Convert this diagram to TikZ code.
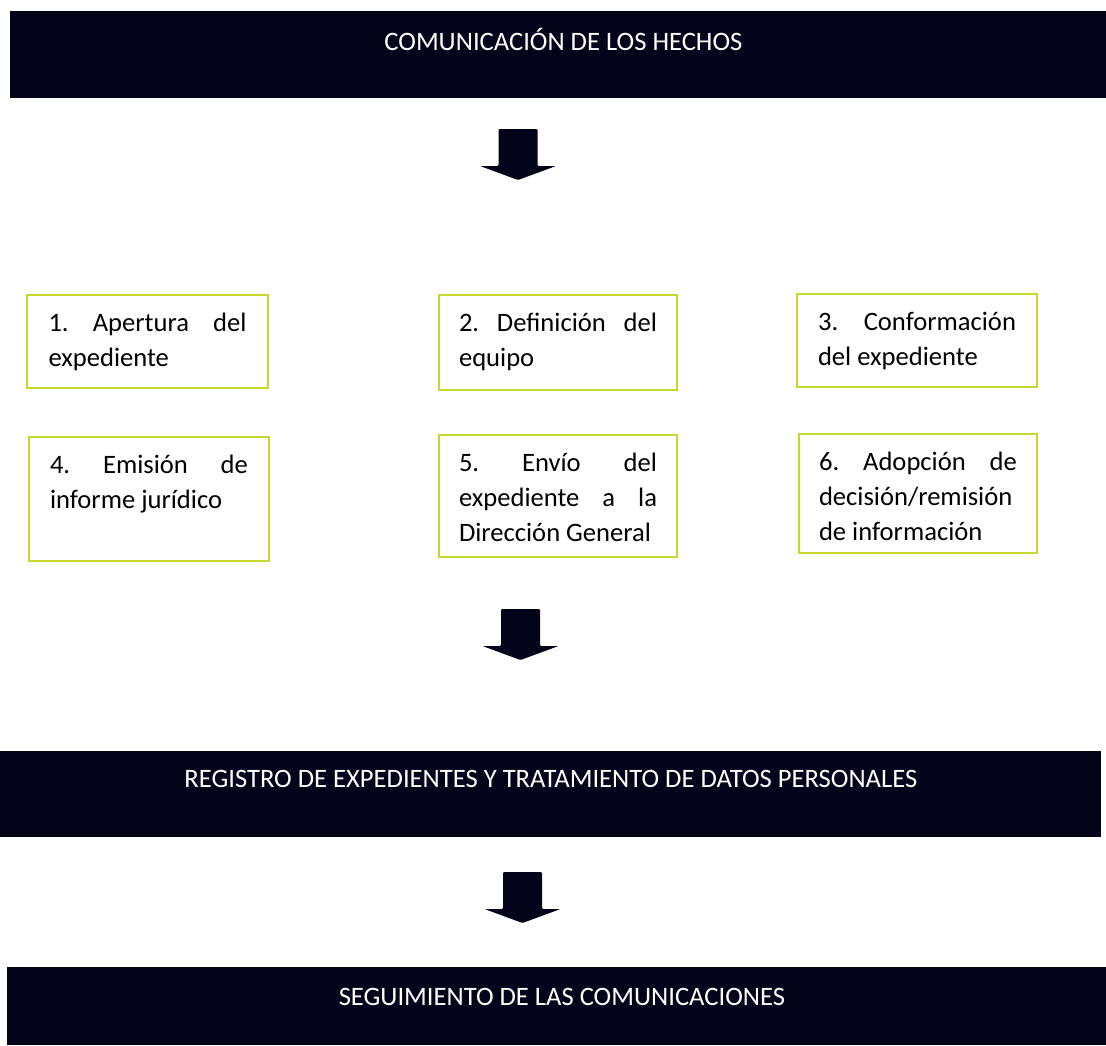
\documentclass[tikz,border=0pt]{standalone}
\usepackage{fontspec}
\setmainfont{Carlito}
\definecolor{navy}{RGB}{3,4,26}
\definecolor{lime}{RGB}{196,216,46}
\newcommand\bt[2]{\parbox[c][#1][t]{99pt}{\frenchspacing\hyphenpenalty=10000\exhyphenpenalty=10000\tolerance=10000\hbadness=10000\rule{0pt}{18pt}#2}}
\begin{document}
\begin{tikzpicture}[x=0.5pt,y=-0.5pt,
  bar/.style={fill=navy, draw=none, text=white, anchor=north west, inner xsep=0pt, inner ysep=0pt,
    font=\fontsize{13.3}{16}\selectfont},
  stepbox/.style={draw=lime, line width=1pt, anchor=north west, inner xsep=10pt, inner ysep=0pt,
    font=\fontsize{13.3}{17.5}\selectfont},
  pics/blockarrow/.style={code={
    \fill[navy, rounded corners=0.6pt] (-19.5,0) -- (19.5,0) -- (19.5,37) -- (38,37) -- (0,51)
      -- (-38,37) -- (-19.5,37) -- cycle;}}]
\useasboundingbox (0,0) rectangle (1106,1045);
\fill[white] (0,0) rectangle (1106,1045);

% bars
\node[bar, minimum width=548pt, text height=19.5pt, text depth=24pt] (top) at (10,11)
  {\hspace*{5pt}COMUNICACIÓN DE LOS HECHOS};
\node[bar, minimum width=550.5pt, text height=18pt, text depth=25pt] (reg) at (0,751)
  {REGISTRO DE EXPEDIENTES Y TRATAMIENTO DE DATOS PERSONALES};
\node[bar, minimum width=549.5pt, text height=19pt, text depth=20pt] (seg) at (7,967)
  {\hspace*{5pt}SEGUIMIENTO DE LAS COMUNICACIONES};

% arrows
\pic (a1) at (518,129) {blockarrow};
\pic (a2) at (520.5,609) {blockarrow};
\pic (a3) at (522.5,872) {blockarrow};

% steps
\node[stepbox, minimum width=120.5pt] (s1) at (26,294) {\bt{46.5pt}{1. Apertura del\linebreak expediente}};
\node[stepbox, minimum width=119pt] (s2) at (438,294) {\bt{47.5pt}{2. Definición del\linebreak equipo}};
\node[stepbox, minimum width=120pt] (s3) at (796,293) {\bt{46.5pt}{3. Conformación\linebreak del expediente}};
\node[stepbox, minimum width=120pt] (s4) at (28,436) {\bt{62pt}{4. Emisión de\linebreak informe jurídico}};
\node[stepbox, minimum width=119pt] (s5) at (438,434) {\bt{61pt}{5. Envío del\linebreak expediente a la\linebreak Dirección General}};
\node[stepbox, minimum width=119pt] (s6) at (798,433) {\bt{59.5pt}{6. Adopción de\linebreak decisión/remisión\linebreak de información}};
\end{tikzpicture}
\end{document}
